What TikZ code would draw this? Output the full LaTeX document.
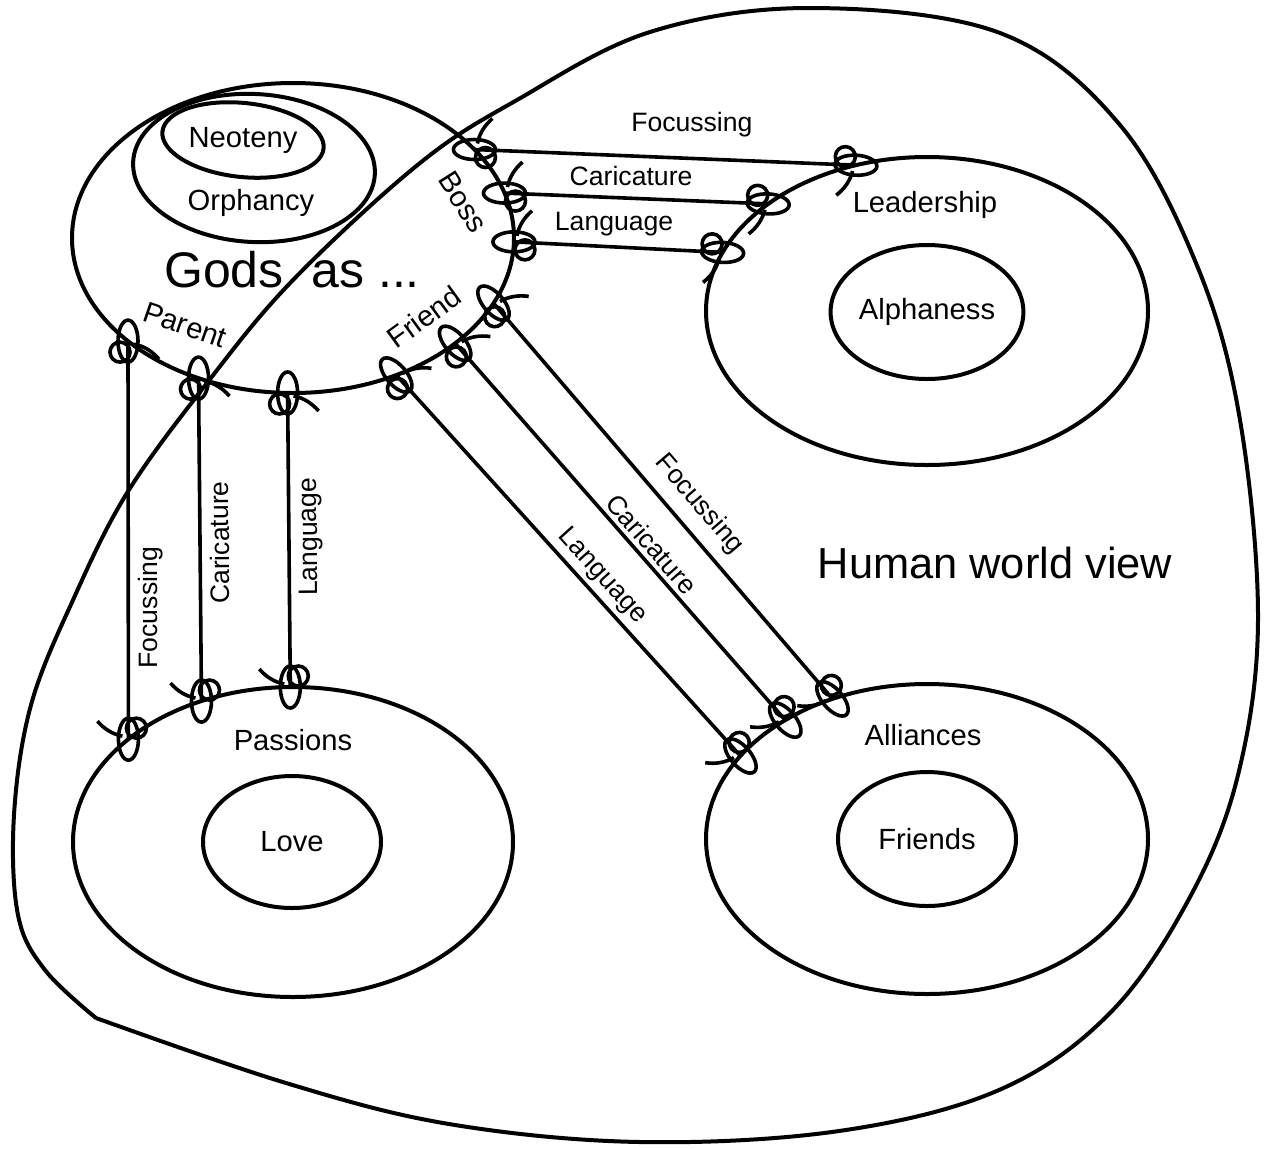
\documentclass[tikz,border=0pt]{standalone}
\usepackage{fontspec}
\setmainfont{Liberation Sans}
\usetikzlibrary{shapes.geometric}
\begin{document}
\begin{tikzpicture}[x=0.5pt,y=-0.5pt,
ring/.style={draw,ellipse,line width=2pt,inner sep=0pt,outer sep=0pt},
link/.style={line width=1.8pt},
tag/.style={font=\fontsize{14.6}{17}\selectfont,inner sep=0pt},
lbl/.style={font=\fontsize{13.3}{16}\selectfont,inner sep=2pt},
knot/.pic={
  \draw[line width=1.8pt] (0,0) ellipse[x radius=21,y radius=10];
  \draw[line width=1.8pt] (-11,-8) circle[radius=10];
  \draw[line width=1.8pt] (-3,6) .. controls (-5,16) and (-10,24) .. (-18,31);
}]
\useasboundingbox (0,0) rectangle (1264,1148);
% human world view
\draw[line width=2pt] plot[smooth,tension=.6] coordinates {(96,1018) (286,1083) (449,1124) (640,1142) (839,1131) (999,1090) (1110,1013) (1190,897) (1238,775) (1258,620) (1240,420) (1198,268) (1120,125) (1000,33) (811,8) (650,32) (517,100) (420,163) (293,280) (207,383) (127,493) (73,600) (31,705) (14,815) (18,915) (45,970) (96,1018)};
\node[font=\fontsize{21.7}{26}\selectfont,inner sep=0pt] (human) at (995,563) {Human world view};

% gods
\node[ring,minimum width=221pt,minimum height=155pt] (gods) at (293,238) {};
\node[ring,rotate=-3,minimum width=121pt,minimum height=74pt] (orph) at (254,168) {};
\node[ring,tag,rotate=-6,minimum width=81pt,minimum height=37pt] (neot) at (243,140) {\rotatebox{6}{Neoteny}};
\node[tag] (orphtxt) at (251,203) {Orphancy};
\node[font=\fontsize{25}{30}\selectfont,inner sep=0pt] (godsas) at (292,270) {Gods\ \ as ...};
\node[tag,rotate=-57.6] (boss) at (463,202) {Boss};
\node[tag,rotate=-19] (parent) at (185,325) {Parent};
\node[tag,rotate=36] (friend) at (424,317) {Friend};

% targets
\node[ring,minimum width=221pt,minimum height=154pt] (lead) at (927,311) {};
\node[ring,tag,minimum width=89pt,minimum height=67pt] (alpha) at (927,312) {Alphaness};
\node[tag] (leadtxt) at (925,205) {Leadership};
\node[ring,minimum width=220pt,minimum height=155pt] (pass) at (293,842) {};
\node[ring,tag,minimum width=89pt,minimum height=66pt] (love) at (292,842) {Love};
\node[tag] (passtxt) at (293,740) {Passions};
\node[ring,minimum width=221pt,minimum height=155pt] (alli) at (927,839) {};
\node[ring,tag,minimum width=89pt,minimum height=67pt] (frnd) at (927,839) {Friends};
\node[tag] (allitxt) at (923,735) {Alliances};

% boss links
\draw[link] (gods.26.6) -- node[lbl,above=8pt,pos=.57] {Focussing} (lead.116.3);
\draw[link] (gods.12.3) -- node[lbl,above=3.5pt,pos=.48] {Caricature} (lead.146.5);
\draw[link] (gods.-1.3) -- node[lbl,above=2.5pt,pos=.48] {Language} (lead.164.8);
\pic[rotate=180] at (gods.26.6) {knot};
\pic[rotate=180] at (gods.12.3) {knot};
\pic[rotate=180] at (gods.-1.3) {knot};
\pic[rotate=-3] at (lead.116.3) {knot};
\pic[rotate=-3] at (lead.146.5) {knot};
\pic[rotate=-3] at (lead.164.8) {knot};

% parent links
\draw[link] (pass.148.5) -- node[lbl,sloped,allow upside down,below=2pt,pos=.33] {Focussing} (gods.-148.4);
\draw[link] (pass.123.5) -- node[lbl,sloped,allow upside down,below=2pt,pos=.49] {Caricature} (gods.-124.2);
\draw[link] (pass.91.1) -- node[lbl,sloped,allow upside down,below=2pt,pos=.51] {Language} (gods.-92.2);
\pic[rotate=90] at (gods.-148.4) {knot};
\pic[rotate=90] at (gods.-124.2) {knot};
\pic[rotate=90] at (gods.-92.2) {knot};
\pic[rotate=-90] at (pass.148.5) {knot};
\pic[rotate=-90] at (pass.123.5) {knot};
\pic[rotate=-90] at (pass.91.1) {knot};

% friend links
\draw[link] (gods.-18.5) -- node[lbl,sloped,above=3.5pt,pos=.55] {Focussing} (alli.124.9);
\draw[link] (gods.-33.4) -- node[lbl,sloped,above=0pt,pos=.56] {Caricature} (alli.140.6);
\draw[link] (gods.-53.9) -- node[lbl,sloped,above=0pt,pos=.56] {Language} (alli.156.9);
\pic[rotate=131] at (gods.-18.5) {knot};
\pic[rotate=131] at (gods.-33.4) {knot};
\pic[rotate=131] at (gods.-53.9) {knot};
\pic[rotate=-49] at (alli.124.9) {knot};
\pic[rotate=-49] at (alli.140.6) {knot};
\pic[rotate=-49] at (alli.156.9) {knot};
\end{tikzpicture}
\end{document}
